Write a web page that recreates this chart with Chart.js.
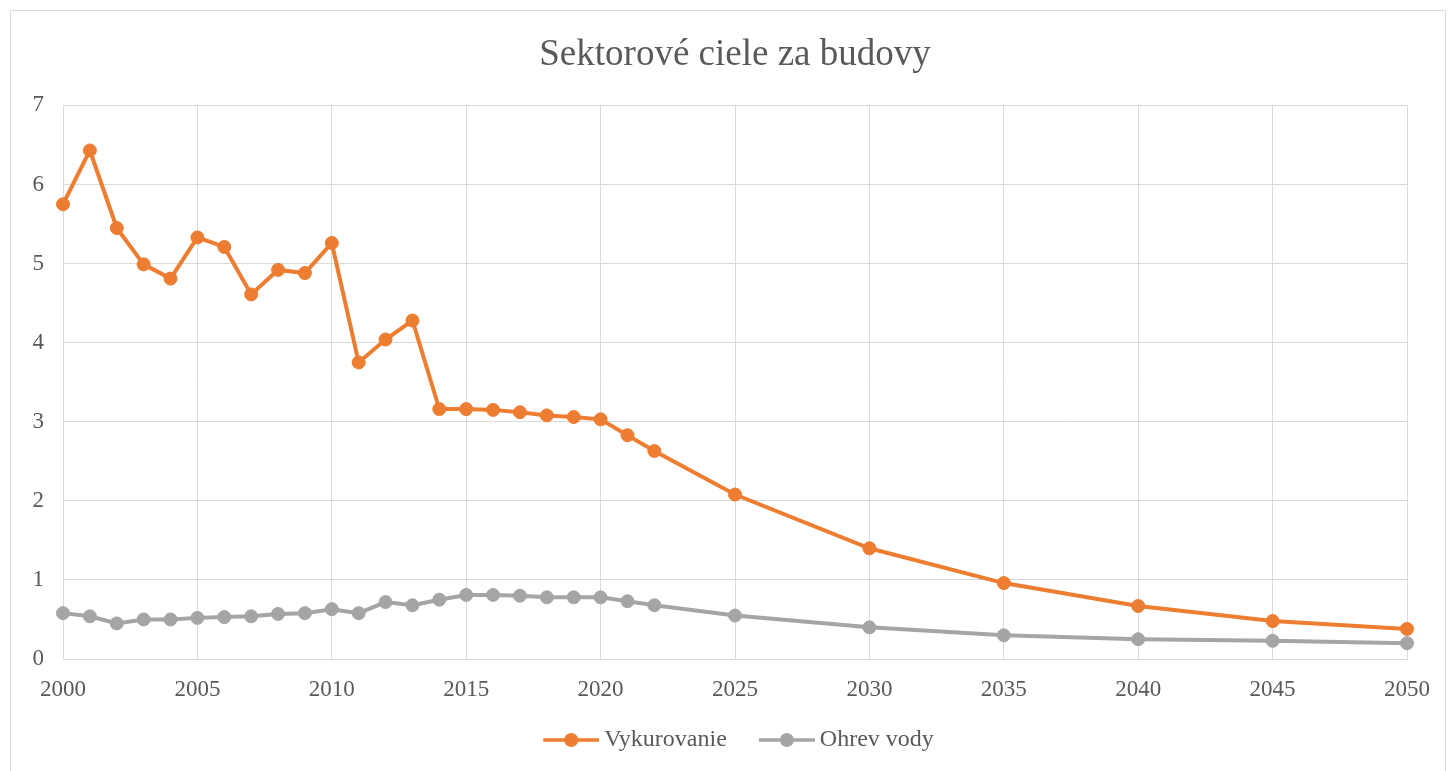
<!DOCTYPE html>
<html lang="sk">
<head>
    <meta charset="UTF-8">
    <title>Sektorové ciele za budovy</title>
    <script src="https://cdn.jsdelivr.net/npm/chart.js"></script>
    <style>
        body {
            margin: 0;
            background: #ffffff;
        }

        #wrap {
            position: absolute;
            left: 0;
            top: 0;
            width: 1456px;
            height: 771px;
        }
    </style>
</head>
<body>
    <div id="wrap">
        <canvas id="chart" width="1456" height="771"></canvas>
    </div>

    <script>
        // years with values (yearly up to 2022, then every 5 years)
        const years = [2000, 2001, 2002, 2003, 2004, 2005, 2006, 2007, 2008, 2009, 2010,
            2011, 2012, 2013, 2014, 2015, 2016, 2017, 2018, 2019, 2020, 2021, 2022,
            2025, 2030, 2035, 2040, 2045, 2050];

        const vykurovanie = [5.75, 6.43, 5.45, 4.99, 4.81, 5.33, 5.21, 4.61, 4.92, 4.88, 5.26,
            3.75, 4.04, 4.28, 3.16, 3.16, 3.15, 3.12, 3.08, 3.06, 3.03, 2.83, 2.63,
            2.08, 1.40, 0.96, 0.67, 0.48, 0.38];

        const ohrevVody = [0.58, 0.54, 0.45, 0.50, 0.50, 0.52, 0.53, 0.54, 0.57, 0.58, 0.63,
            0.58, 0.72, 0.68, 0.75, 0.81, 0.81, 0.80, 0.78, 0.78, 0.78, 0.73, 0.68,
            0.55, 0.40, 0.30, 0.25, 0.23, 0.20];

        const seriesNames = ['Vykurovanie', 'Ohrev vody'];
        const seriesColors = ['#ED7D31', '#A5A5A5'];

        const textColor = '#595959';
        const gridColor = '#d9d9d9';
        const fontFamily = '"Liberation Serif", "Times New Roman", serif';

        // legend marker: short line with a dot, drawn in the right part of the image
        // so that it sits close to its label text
        function legendMarker(color) {
            const c = document.createElement('canvas');
            c.width = 70;
            c.height = 16;
            const g = c.getContext('2d');
            g.strokeStyle = color;
            g.lineWidth = 3.5;
            g.beginPath();
            g.moveTo(14, 8);
            g.lineTo(70, 8);
            g.stroke();
            g.fillStyle = color;
            g.beginPath();
            g.arc(42, 8, 7, 0, Math.PI * 2);
            g.fill();
            return c;
        }

        // thin frame around the whole chart
        const framePlugin = {
            id: 'frame',
            beforeDraw(chart) {
                const ctx = chart.ctx;
                ctx.save();
                ctx.strokeStyle = gridColor;
                ctx.lineWidth = 1;
                ctx.strokeRect(10.5, 10.5, 1435, 800);
                ctx.restore();
            }
        };

        function toPoints(values) {
            return years.map((y, i) => ({ x: y, y: values[i] }));
        }

        function makeDataset(name, values, color) {
            return {
                label: name,
                data: toPoints(values),
                borderColor: color,
                backgroundColor: color,
                borderWidth: 4,
                pointRadius: 6.5,
                pointBorderWidth: 1,
                pointBorderColor: color,
                pointBackgroundColor: color,
                pointStyle: 'circle',
                clip: false,
                tension: 0
            };
        }

        const datasets = [
            makeDataset(seriesNames[0], vykurovanie, seriesColors[0]),
            makeDataset(seriesNames[1], ohrevVody, seriesColors[1])
        ];
        const markers = seriesColors.map(legendMarker);

        new Chart(document.getElementById('chart'), {
            type: 'line',
            data: { datasets: datasets },
            options: {
                responsive: false,
                animation: false,
                layout: {
                    padding: { left: 20, right: 49, top: 0, bottom: 9 }
                },
                plugins: {
                    title: {
                        display: true,
                        fullSize: false,
                        text: 'Sektorové ciele za budovy',
                        color: textColor,
                        font: { family: fontFamily, size: 37, weight: 'normal' },
                        padding: { top: 33, bottom: 28 }
                    },
                    legend: {
                        position: 'bottom',
                        fullSize: false,
                        labels: {
                            color: textColor,
                            font: { family: fontFamily, size: 24 },
                            usePointStyle: true,
                            pointStyleWidth: 56,
                            boxHeight: 16,
                            padding: 25,
                            generateLabels(chart) {
                                return chart.data.datasets.map((d, i) => ({
                                    text: d.label,
                                    pointStyle: markers[i],
                                    fillStyle: d.borderColor,
                                    strokeStyle: d.borderColor,
                                    lineWidth: 0,
                                    fontColor: textColor,
                                    hidden: false,
                                    datasetIndex: i
                                }));
                            }
                        }
                    },
                    tooltip: { enabled: false }
                },
                scales: {
                    x: {
                        type: 'linear',
                        min: 2000,
                        max: 2050,
                        ticks: {
                            stepSize: 5,
                            color: textColor,
                            font: { family: fontFamily, size: 23 },
                            padding: 17,
                            maxRotation: 0,
                            callback: v => String(v)
                        },
                        grid: { color: gridColor, drawTicks: false },
                        border: { color: gridColor },
                        afterFit(scale) {
                            scale.height = 44;
                        }
                    },
                    y: {
                        min: 0,
                        max: 7,
                        ticks: {
                            stepSize: 1,
                            color: textColor,
                            font: { family: fontFamily, size: 23 },
                            padding: 19
                        },
                        grid: { color: gridColor, drawTicks: false },
                        border: { color: gridColor },
                        afterFit(scale) {
                            scale.width = 43;
                        }
                    }
                }
            },
            plugins: [framePlugin]
        });
    </script>
</body>
</html>
